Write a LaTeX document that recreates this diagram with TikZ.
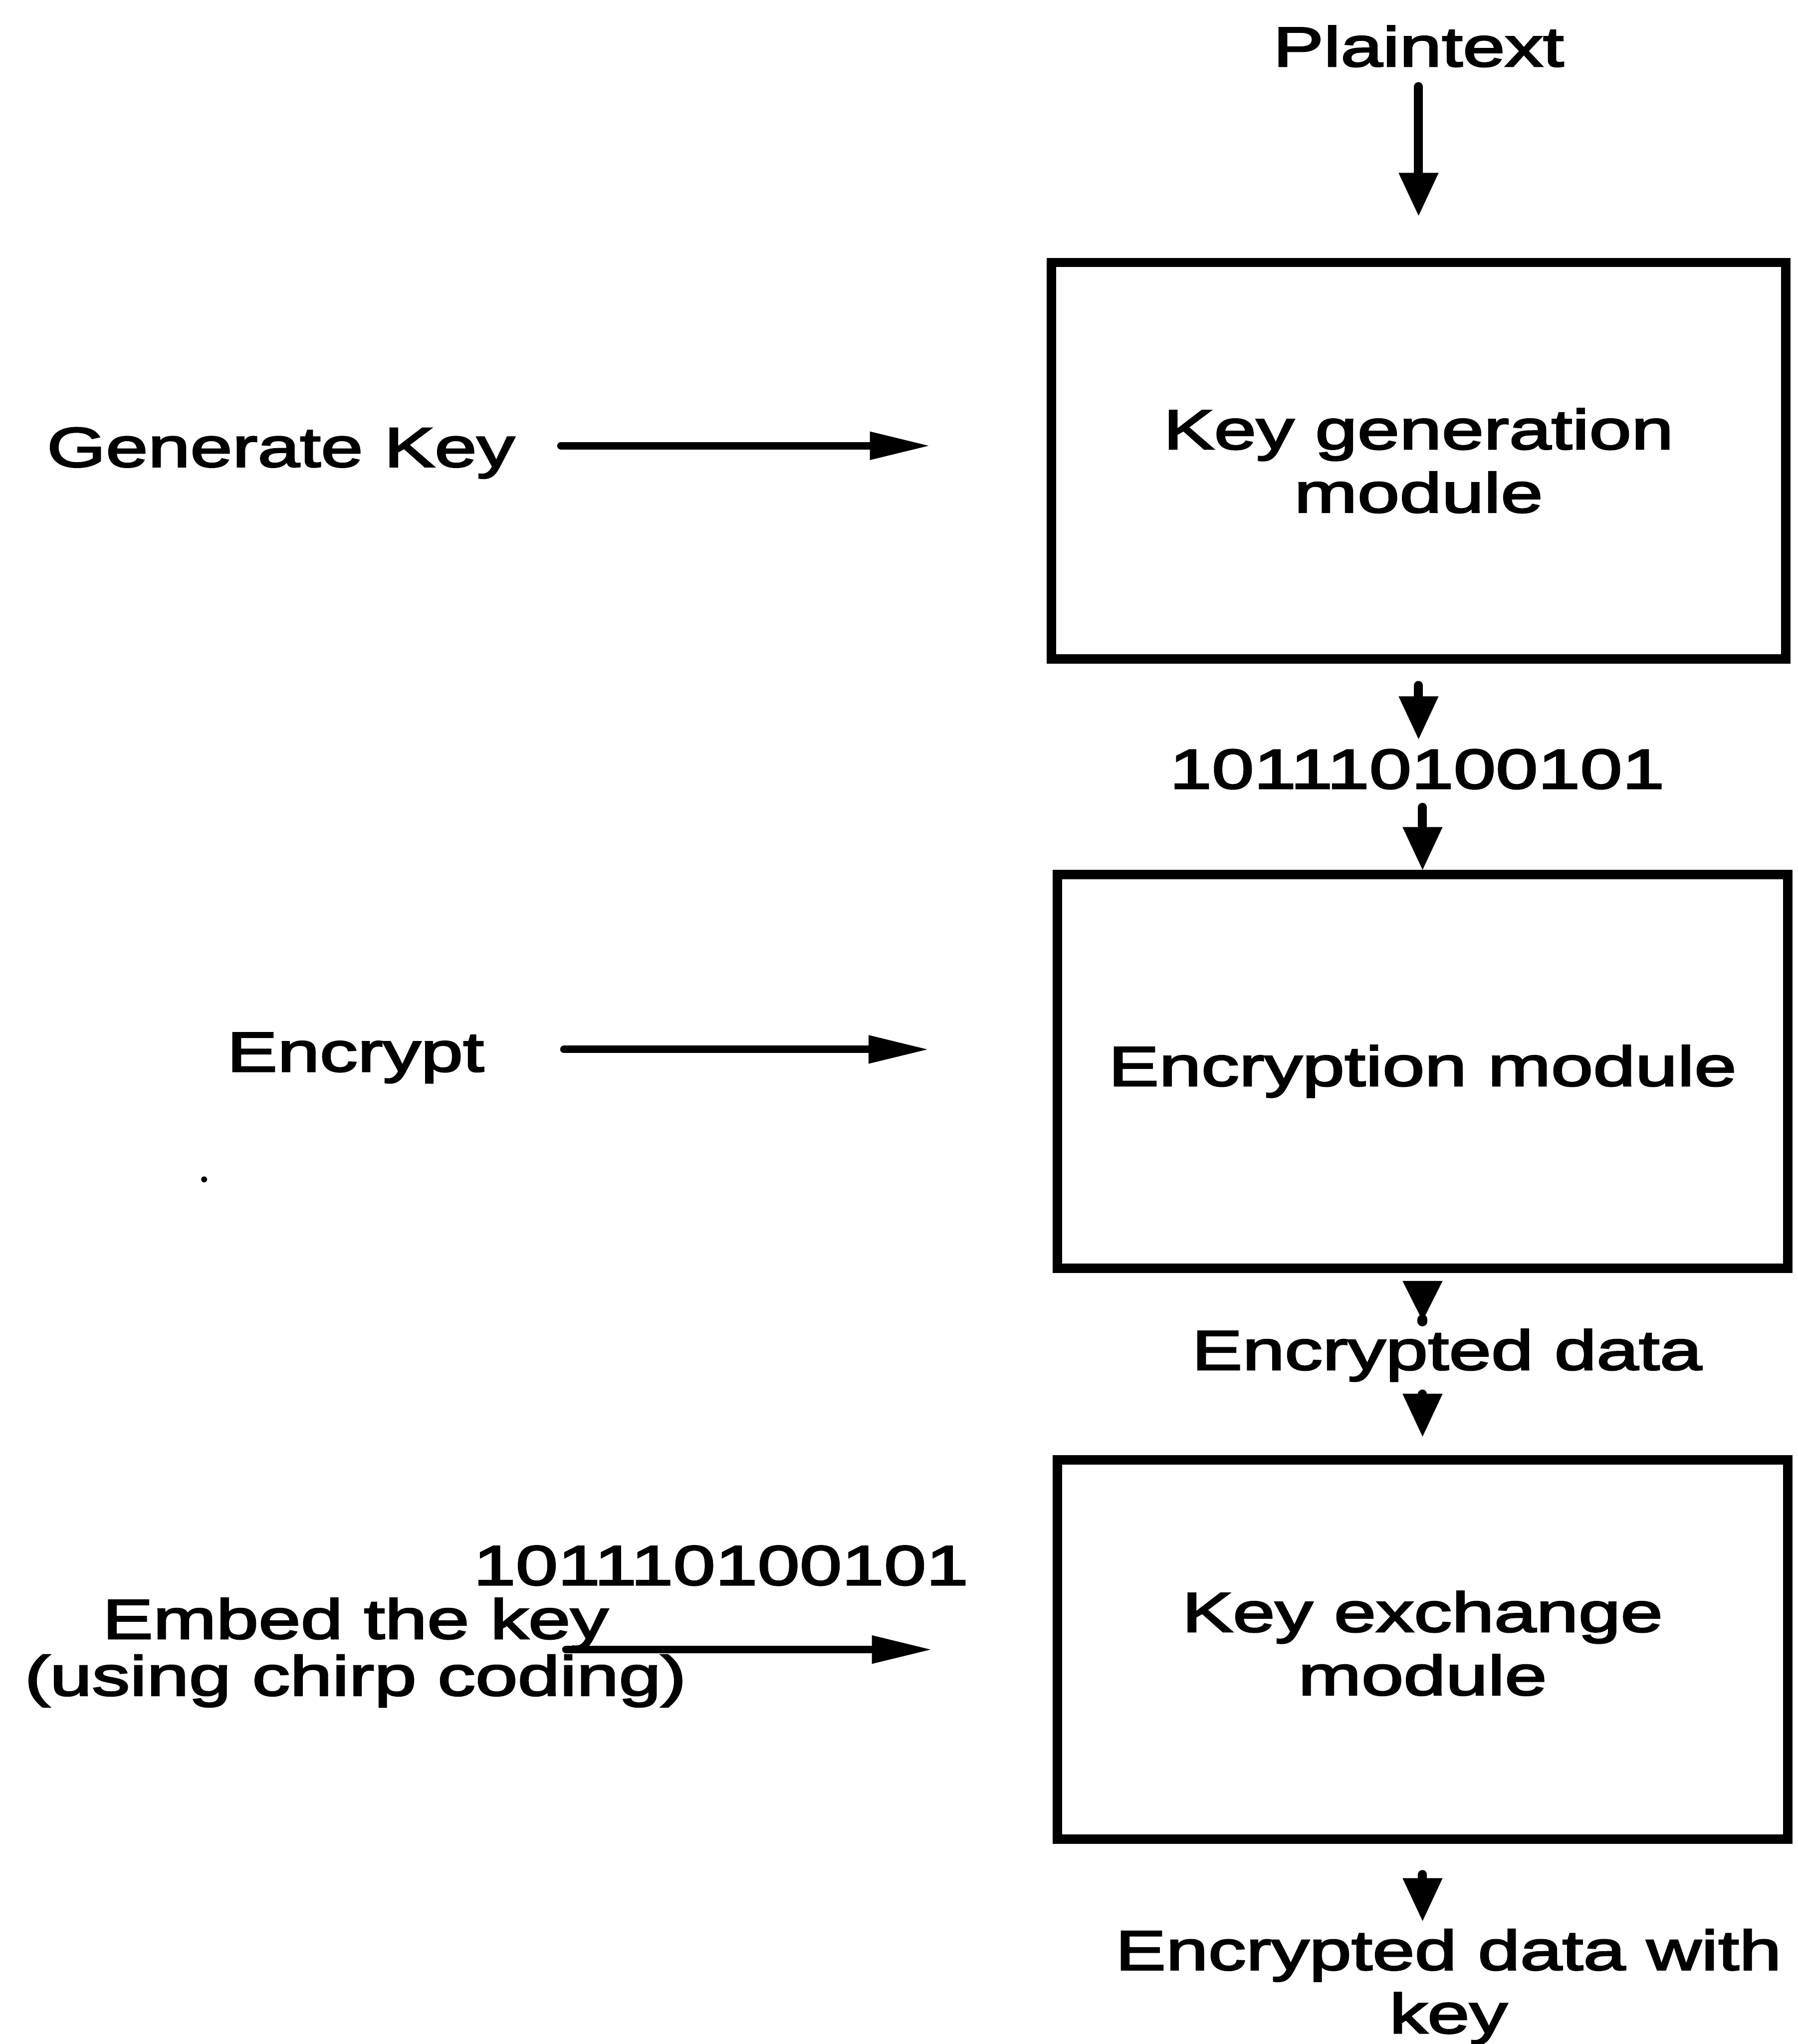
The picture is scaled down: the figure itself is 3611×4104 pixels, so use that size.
\documentclass[tikz,border=0pt]{standalone}
\usepackage{fontspec}
\setmainfont{Liberation Sans}[FakeStretch=1.36, FakeBold=3]
\usetikzlibrary{arrows.meta}
\begin{document}
\begin{tikzpicture}[x=0.25pt, y=-0.25pt,
  lbl/.style={font=\fontsize{28}{31.75}\selectfont, inner sep=0pt},
  box/.style={draw, line width=4.75pt, inner sep=0pt, align=center,
              font=\fontsize{28}{31.75}\selectfont},
  varr/.style={line width=4.5pt, line cap=round,
               -{Triangle[length=21.5pt, width=20pt, line width=0.5pt]}},
  harr/.style={line width=3.75pt, line cap=round,
               -{Triangle[length=29.5pt, width=14.25pt, line width=0.5pt]}},
]
\fill[white] (0,0) rectangle (3611,4104);
\useasboundingbox (0,0) rectangle (3611,4104);

% right column
\node[lbl, anchor=base] (ptxt) at (2849,133) {Plaintext};
\node[box, minimum width=368.5pt, minimum height=199pt] (box1) at (2849,925) {Key generation\\module};
\node[lbl, anchor=base] (bits1) at (2846,1583) {101110100101};
\node[box, minimum width=366.75pt, minimum height=197.5pt] (box2) at (2857,2151) {Encryption module};
\node[lbl, anchor=base] (enc) at (2906,2750) {Encrypted data};
\node[box, minimum width=366.5pt, minimum height=190.25pt] (box3) at (2857,3312) {Key exchange\\module\rule[-6.5pt]{0pt}{0pt}};
\node[lbl, anchor=north, align=center] (out) at (2909,3873) {Encrypted data with\\key};

% left column
\node[lbl, anchor=base] (gen) at (564,937) {Generate Key};
\node[lbl, anchor=base] (encr) at (714,2151) {Encrypt};
\node[lbl, anchor=base] (bits2) at (1448,3182) {101110100101};
\node[lbl, anchor=north, align=center, font=\fontsize{28}{28.5}\selectfont] (embed) at (714,3208) {Embed the key\\(using chirp coding)};
\node[circle, fill, inner sep=0pt, minimum size=3pt] (speck) at (410,2368) {};

% vertical connectors
\draw[varr, shorten <=9.75pt, shorten >=21.1pt] (ptxt.south) -- (ptxt.south |- box1.north);
\draw[varr, shorten <=10.9pt, shorten >=5pt] (box1.south) -- (box1.south |- bits1.north);
\draw[varr, shorten <=9pt] (box2.north |- bits1.south) -- (box2.north);
\draw[line width=5pt, line cap=round,
      {Triangle[reversed, length=20pt, width=20pt, line width=0.5pt]}-,
      shorten <=4.1pt, shorten >=3.75pt] (box2.south) -- (box2.south |- enc.north);
\draw[varr, shorten <=7.9pt, shorten >=9.4pt] (box3.north |- enc.south) -- (box3.north);
\draw[varr, shorten <=15.4pt, shorten >=4pt] (box3.south) -- (box3.south |- out.north);

% horizontal connectors
\coordinate (h1s) at (1126.5,895);
\coordinate (h2s) at (1132.5,2107);
\coordinate (h3s) at (1136.5,3312);
\draw[harr, shorten >=59.4pt] (h1s) -- (h1s -| box1.west);
\draw[harr, shorten >=62.9pt] (h2s) -- (h2s -| box2.west);
\draw[harr, shorten >=61.4pt] (h3s) -- (h3s -| box3.west);
\end{tikzpicture}
\end{document}
